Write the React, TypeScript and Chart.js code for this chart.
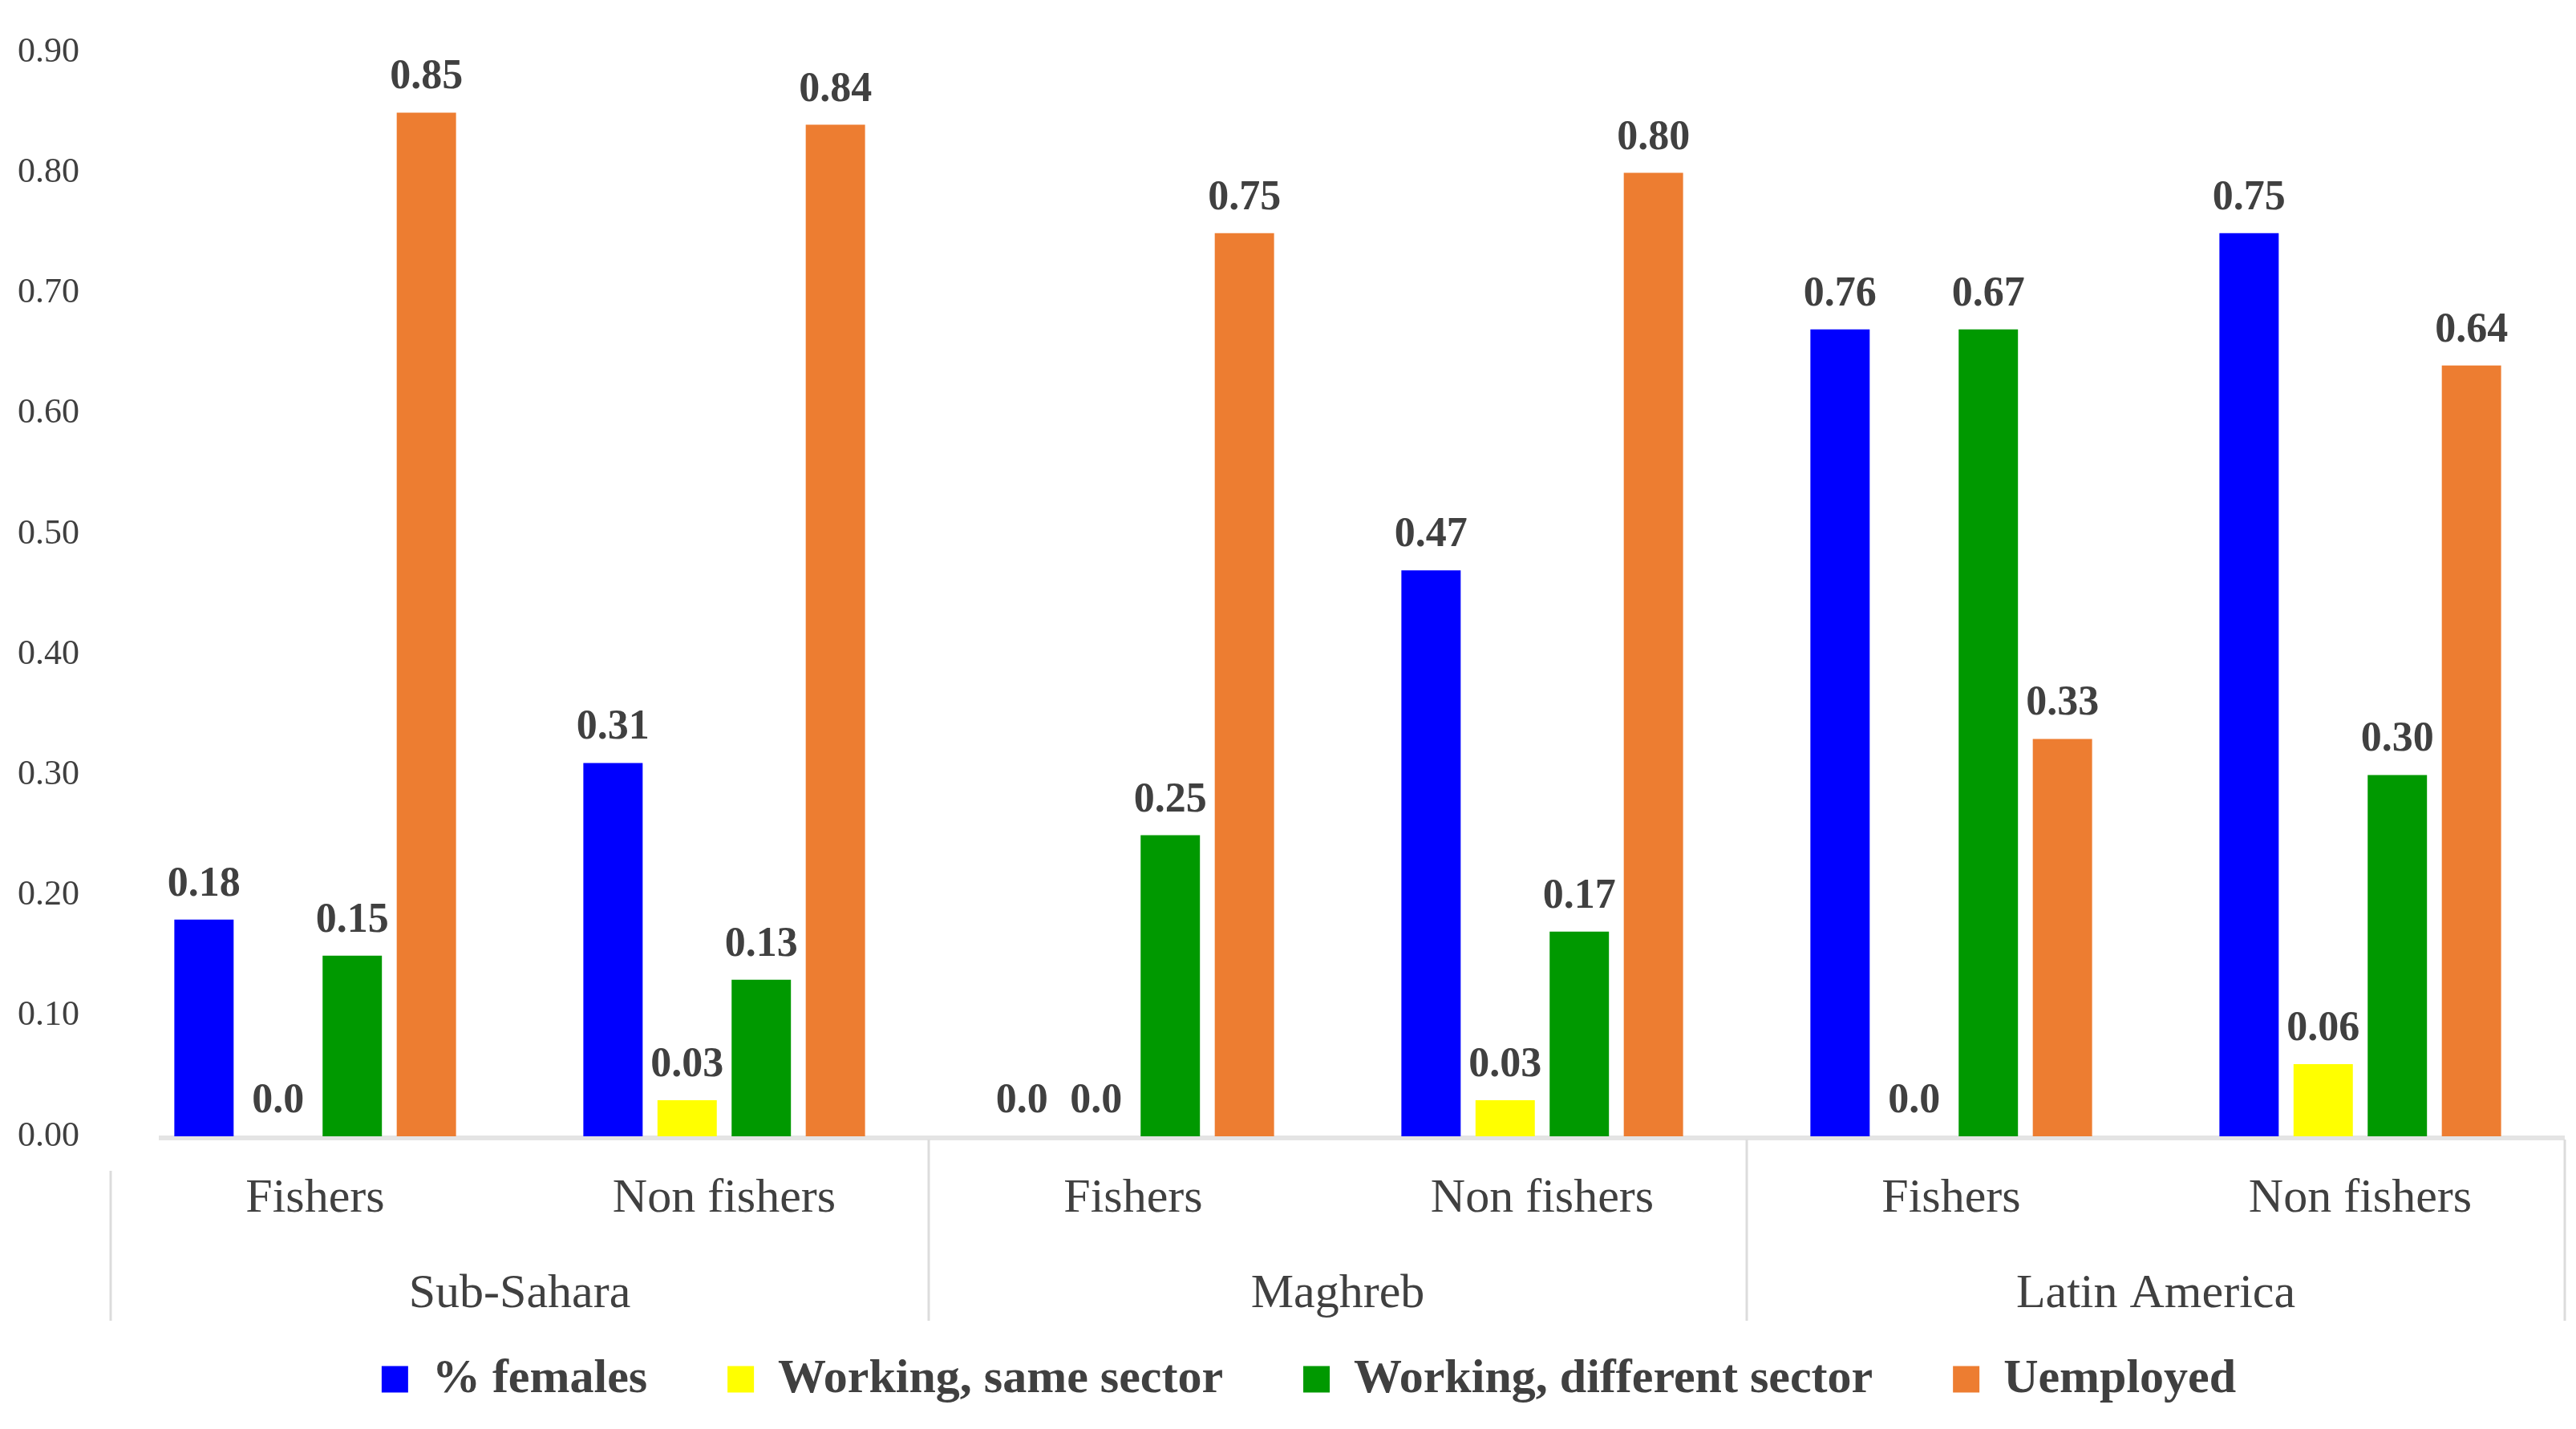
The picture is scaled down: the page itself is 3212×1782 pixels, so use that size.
import React, { useEffect, useRef } from "react";
import { Chart, registerables } from "chart.js";

Chart.register(...registerables);

const categories = ["Fishers", "Non fishers", "Fishers", "Non fishers", "Fishers", "Non fishers"];
const regions = ["Sub-Sahara", "Maghreb", "Latin America"];
const seriesNames = ["% females", "Working, same sector", "Working, different sector", "Uemployed"];

const females = [0.18, 0.31, 0, 0.47, 0.67, 0.75];
const sameSector = [0, 0.03, 0, 0.03, 0, 0.06];
const differentSector = [0.15, 0.13, 0.25, 0.17, 0.67, 0.3];
const unemployed = [0.85, 0.84, 0.75, 0.8, 0.33, 0.64];

const femalesLabels = ["0.18", "0.31", "0.0", "0.47", "0.76", "0.75"];
const sameSectorLabels = ["0.0", "0.03", "0.0", "0.03", "0.0", "0.06"];
const differentSectorLabels = ["0.15", "0.13", "0.25", "0.17", "0.67", "0.30"];
const unemployedLabels = ["0.85", "0.84", "0.75", "0.80", "0.33", "0.64"];

const FONT = '"Liberation Serif", "DejaVu Serif", serif';
const TEXT = "#404040";

export default function App() {
  const ref = useRef<HTMLCanvasElement | null>(null);

  useEffect(() => {
    const canvas = ref.current;
    if (!canvas) return;
    const labelSets = [femalesLabels, sameSectorLabels, differentSectorLabels, unemployedLabels];

    const decor = {
      id: "decor",
      afterLayout(chart: any) {
        if (chart.legend) chart.legend.left = 66;
      },
      beforeDatasetsDraw(chart: any) {
        const { ctx, chartArea } = chart;
        ctx.save();
        ctx.strokeStyle = "#E4E4E4";
        ctx.lineWidth = 6;
        ctx.beginPath();
        ctx.moveTo(chartArea.left + 60, chartArea.bottom + 2);
        ctx.lineTo(chartArea.right, chartArea.bottom + 2);
        ctx.stroke();
        ctx.restore();
      },
      afterDatasetsDraw(chart: any) {
        const { ctx, chartArea } = chart;
        ctx.save();
        // data labels
        ctx.font = `bold 52px ${FONT}`;
        ctx.fillStyle = TEXT;
        ctx.textAlign = "center";
        ctx.textBaseline = "alphabetic";
        chart.data.datasets.forEach((ds: any, i: number) => {
          const meta = chart.getDatasetMeta(i);
          meta.data.forEach((el: any, j: number) => {
            ctx.fillText(labelSets[i][j], el.x, el.y - 30);
          });
        });
        // x axis two-level labels
        const x = chart.scales.x;
        const half = (x.getPixelForValue(1) - x.getPixelForValue(0)) / 2;
        ctx.font = `60px ${FONT}`;
        ctx.textBaseline = "middle";
        categories.forEach((c, i) => {
          ctx.fillText(c, x.getPixelForValue(i), chartArea.bottom + 78);
        });
        regions.forEach((r, g) => {
          const cx = (x.getPixelForValue(2 * g) + x.getPixelForValue(2 * g + 1)) / 2;
          ctx.fillText(r, cx, chartArea.bottom + 197);
        });
        ctx.strokeStyle = "#DCDCDC";
        ctx.lineWidth = 3;
        for (let g = 0; g <= regions.length; g++) {
          const bx = g < regions.length ? x.getPixelForValue(2 * g) - half : x.getPixelForValue(2 * g - 1) + half;
          const top = g === 0 ? chartArea.bottom + 43 : chartArea.bottom + 4;
          ctx.beginPath();
          ctx.moveTo(bx, top);
          ctx.lineTo(bx, chartArea.bottom + 230);
          ctx.stroke();
        }
        ctx.restore();
      },
    };

    const chart = new Chart(canvas, {
      type: "bar",
      data: {
        labels: categories,
        datasets: [
          { label: seriesNames[0], data: females, backgroundColor: "#0000FF" },
          { label: seriesNames[1], data: sameSector, backgroundColor: "#FFFF00" },
          { label: seriesNames[2], data: differentSector, backgroundColor: "#009900" },
          { label: seriesNames[3], data: unemployed, backgroundColor: "#ED7D31" },
        ],
      },
      options: {
        animation: false,
        responsive: true,
        maintainAspectRatio: false,
        layout: { padding: { top: 55, right: 14, bottom: 22, left: 0 } },
        datasets: { bar: { barPercentage: 0.8, categoryPercentage: 0.725 } },
        scales: {
          x: {
            grid: { display: false, drawTicks: false },
            border: { display: false },
            ticks: { display: false },
            afterFit: (s: any) => {
              s.height = 173;
            },
          },
          y: {
            min: 0,
            max: 0.9,
            grid: { display: false, drawTicks: false },
            border: { display: false },
            ticks: {
              stepSize: 0.1,
              padding: 39,
              color: TEXT,
              font: { family: FONT, size: 44 },
              callback: (v: any) => Number(v).toFixed(2),
            },
            afterFit: (s: any) => {
              s.width = 138;
            },
          },
        },
        plugins: {
          legend: {
            position: "bottom",
            labels: {
              boxWidth: 33,
              boxHeight: 33,
              padding: 100,
              color: TEXT,
              font: { family: FONT, size: 60, weight: "bold" },
            },
          },
          tooltip: { enabled: false },
        },
      },
      plugins: [decor],
    });
    return () => chart.destroy();
  }, []);

  return (
    <div style={{ position: "fixed", left: 0, top: 0, width: 3212, height: 1782, background: "#fff" }}>
      <canvas ref={ref} />
    </div>
  );
}
